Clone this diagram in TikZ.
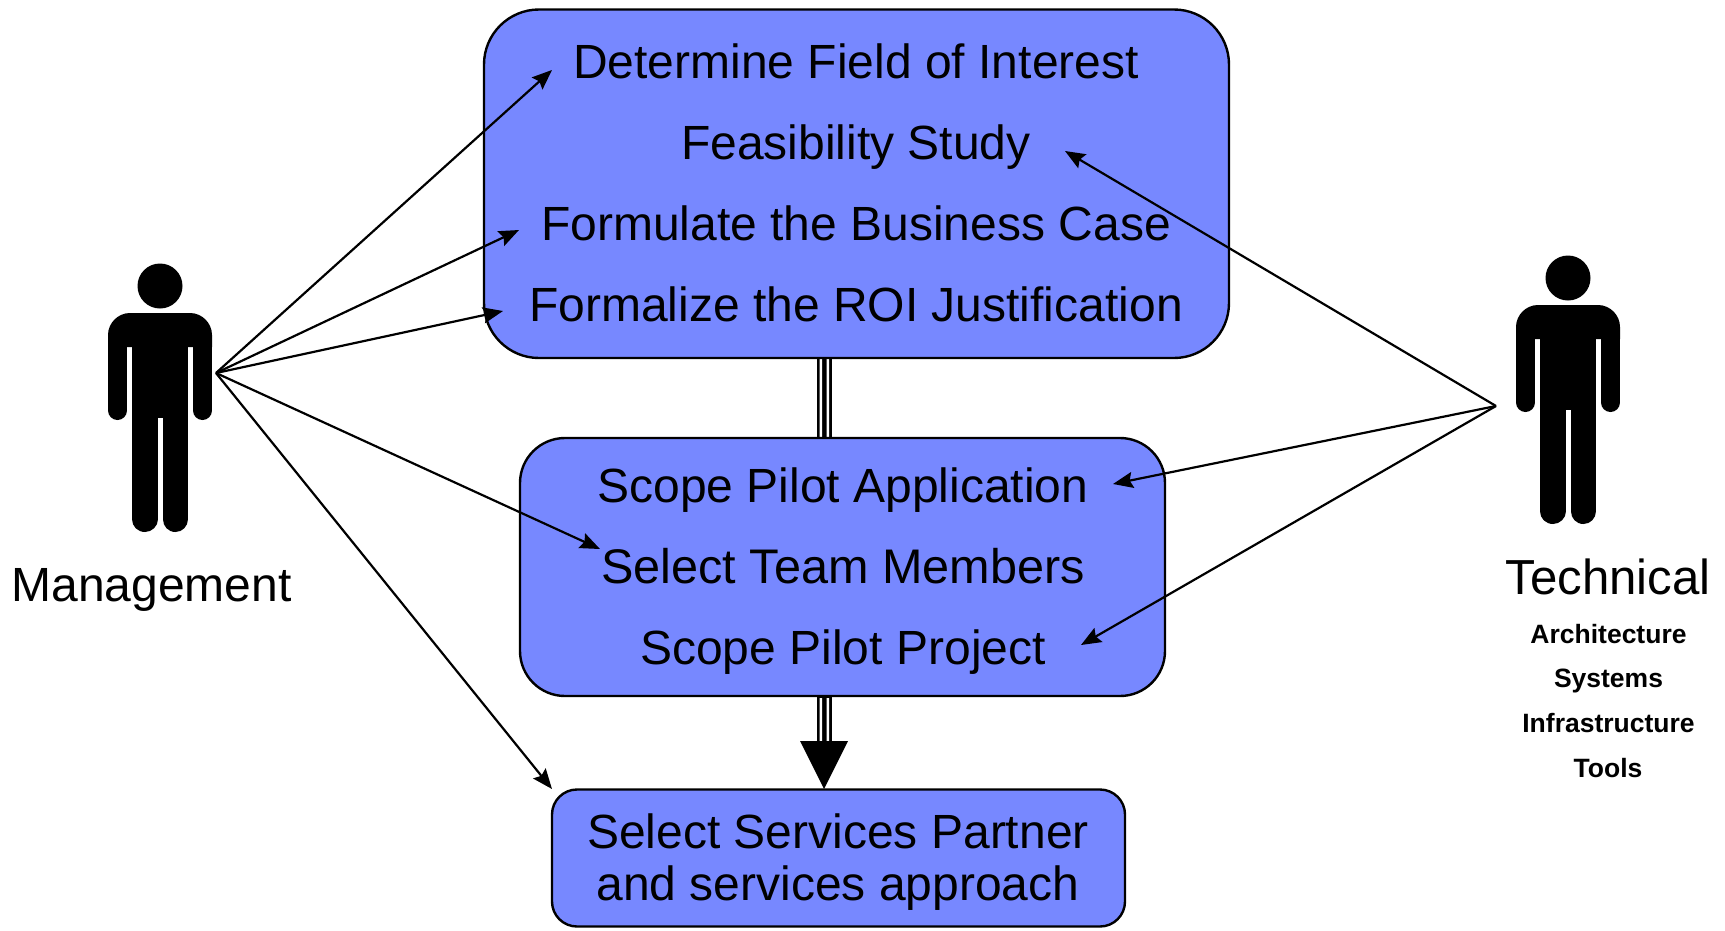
\documentclass[tikz,border=0pt]{standalone}
\usepackage{fontspec}
\setmainfont{Liberation Sans}
\usetikzlibrary{arrows.meta}
\tikzset{
  x=1pt,y=-1pt,
  panel/.style={fill=boxblue,draw=black,line width=2.4pt,rounded corners=#1},
  lbl/.style={font=\fontsize{48}{56}\selectfont,inner sep=0pt,anchor=base},
  sublbl/.style={font=\fontsize{26.5}{30}\selectfont\bfseries,inner sep=0pt,anchor=base},
  link/.style={-{Stealth[length=20pt,width=16pt,inset=3pt]},line width=2.2pt,black},
  person/.pic={
    \fill[black] (0,-87) circle (22.5);
    \fill[black] (-52,-26) -- (-52,-38) .. controls (-52,-50) and (-42,-60) .. (-30,-60) -- (30,-60) .. controls (42,-60) and (52,-50) .. (52,-38) -- (52,-26) -- cycle;
    \fill[black] (-28,-60) rectangle (28,45);
    \draw[black,line width=19pt,line cap=round] (-42.5,-30) -- (-42.5,37.5);
    \draw[black,line width=19pt,line cap=round] (42.5,-30) -- (42.5,37.5);
    \draw[black,line width=25.5pt,line cap=round] (-15.25,40) -- (-15.25,146.25);
    \draw[black,line width=25.5pt,line cap=round] (15.25,40) -- (15.25,146.25);
  },
}
\definecolor{boxblue}{RGB}{119,136,255}
\begin{document}
\begin{tikzpicture}
\useasboundingbox (0,0) rectangle (1725,930);
% double-rule connectors
\fill[black] (817,355) rectangle (832,440);
\fill[white] (819.5,358) rectangle (822,438) (826.5,358) rectangle (829,438);
\fill[black] (817,694) rectangle (832,745);
\fill[white] (819.5,698) rectangle (822,742) (826.5,698) rectangle (829,742);
\fill[black] (800,741) -- (848,741) -- (824,789) -- cycle;
% panels
\draw[panel=55pt] (484,9.5) rectangle (1229,358);
\draw[panel=45pt] (520,438) rectangle (1165,696);
\draw[panel=25pt] (552,789.5) rectangle (1125,926.5);
% people
\pic at (160,373) {person};
\pic at (1568,365) {person};
% texts
\node[lbl] (t1) at (856,78) {Determine Field of Interest};
\node[lbl] (t2) at (856,159) {Feasibility Study};
\node[lbl] (t3) at (856,240) {Formulate the Business Case};
\node[lbl] (t4) at (856,321) {Formalize the ROI Justification};
\node[lbl] (t5) at (843,502) {Scope Pilot Application};
\node[lbl,font=\fontsize{48.6}{56}\selectfont] (t6) at (843,583) {Select Team Members};
\node[lbl] (t7) at (843,664) {Scope Pilot Project};
\node[lbl] (t8) at (838,848) {Select Services Partner};
\node[lbl] (t9) at (838,900) {and services approach};
\node[lbl] (mg) at (151.5,601) {Management};
\node[lbl,font=\fontsize{49.2}{56}\selectfont] (te) at (1608,594) {Technical};
\node[sublbl] (s1) at (1608.5,643) {Architecture};
\node[sublbl] (s2) at (1608.5,687) {Systems};
\node[sublbl] (s3) at (1608.5,732) {Infrastructure};
\node[sublbl] (s4) at (1608,777) {Tools};
% connector ends
\coordinate (ml) at (216,373);
\coordinate (tr) at (1496,406);
\coordinate (a1) at (552,70);
\coordinate (a2) at (519,230);
\coordinate (a3) at (503,311);
\coordinate (a4) at (600,549);
\coordinate (a5) at (552,789);
\coordinate (b1) at (1065,151);
\coordinate (b2) at (1113,484);
\coordinate (b3) at (1081,645);
\foreach \e in {a1,a2,a3,a4,a5} \draw[link] (ml) -- (\e);
\foreach \e in {b1,b2,b3} \draw[link] (tr) -- (\e);
\end{tikzpicture}
\end{document}
